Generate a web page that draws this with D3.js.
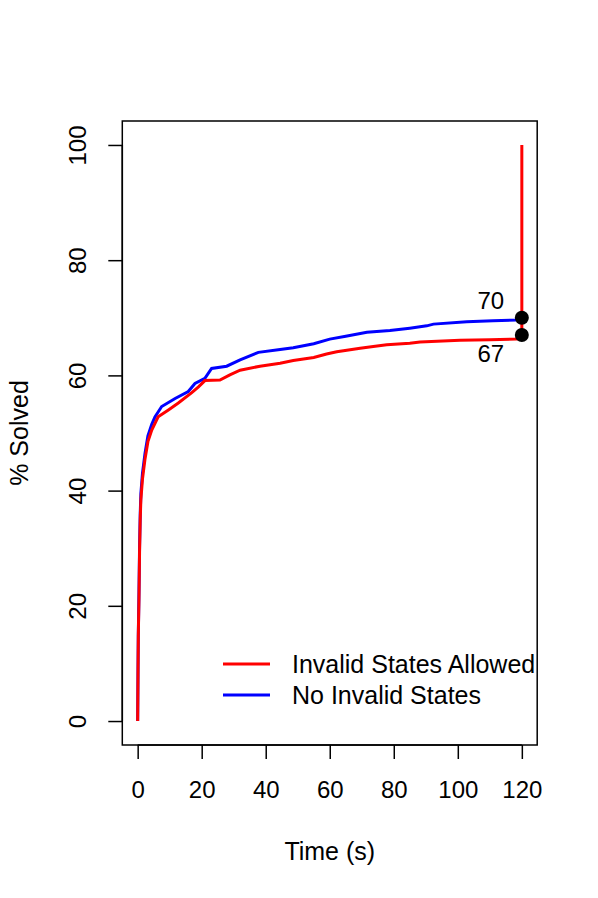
<!DOCTYPE html>
<html>
<head>
<meta charset="utf-8">
<script src="https://cdnjs.cloudflare.com/ajax/libs/d3/7.8.5/d3.min.js"></script>
<style>
  body { margin: 0; background: #fff; }
  text { font-family: "Liberation Sans", Arial, Helvetica, sans-serif; fill: #000; }
</style>
</head>
<body>
<script>
// cumulative % solved vs time
var xTicks = [0, 20, 40, 60, 80, 100, 120];
var yTicks = [0, 20, 40, 60, 80, 100];

var redTime = [0, 0.1, 0.2, 0.4, 0.6, 0.8, 1.0, 1.5, 2.3, 3.2, 4.4, 6.4, 9.6, 12.7, 16.9, 19, 21, 25.7, 28.8, 32, 38.2, 44.5, 48.6, 55, 59, 62.2, 69.5, 73.6, 77.8, 85, 88.2, 100.7, 110, 118.4, 120, 120];
var redPct  = [0, 8, 15, 21, 29.7, 35, 38.4, 42, 45.5, 48.5, 50.5, 52.8, 54, 55.2, 57, 58, 59.1, 59.2, 60.1, 60.9, 61.6, 62.1, 62.6, 63.1, 63.7, 64.1, 64.7, 65, 65.3, 65.6, 65.8, 66.1, 66.2, 66.3, 66.4, 100];

var blueTime = [0, 0.1, 0.2, 0.4, 0.6, 0.8, 1.0, 1.5, 2.3, 3.2, 4.4, 5.4, 7.5, 11.7, 15.8, 17.9, 21, 23.1, 27.8, 32, 37.7, 44.5, 48.6, 55, 60, 65, 71.6, 78.8, 85, 90.3, 92.4, 102.8, 111, 118.4, 120];
var bluePct  = [0, 8, 15, 22, 30.5, 36, 39.5, 43, 46.5, 49.5, 51.5, 52.8, 54.6, 56, 57.2, 58.6, 59.5, 61.2, 61.6, 62.7, 64, 64.5, 64.8, 65.5, 66.3, 66.8, 67.5, 67.8, 68.2, 68.6, 68.9, 69.3, 69.5, 69.6, 69.7];

var endTime = [120, 120];
var endPct = [70, 67];
var endLabels = ["70", "67"];

var legendNames = ["Invalid States Allowed", "No Invalid States"];
var legendColors = ["red", "blue"];

var W = 598, H = 898;
var svg = d3.select("body").append("svg").attr("width", W).attr("height", H);

var x = d3.scaleLinear().domain([-4.8, 124.8]).range([122.3, 537.2]);
var y = d3.scaleLinear().domain([-4.16, 104.16]).range([745, 121]);

// box
svg.append("rect")
   .attr("x", x(-4.8)).attr("y", y(104.16))
   .attr("width", x(124.8) - x(-4.8)).attr("height", y(-4.16) - y(104.16))
   .attr("fill", "none").attr("stroke", "#000").attr("stroke-width", 1.5);

// x axis
var xAxis = svg.append("g").attr("transform", "translate(0," + y(-4.16) + ")")
   .call(d3.axisBottom(x).tickValues(xTicks).tickSize(14).tickPadding(22).tickSizeOuter(0));
xAxis.select(".domain").attr("d", "M" + x(0) + ",0H" + x(120)).attr("stroke-width", 1.5);
xAxis.selectAll(".tick line").attr("stroke-width", 1.5);
xAxis.selectAll(".tick text").style("font-size", "24px").attr("font-family", null);

// y axis
var yAxis = svg.append("g").attr("transform", "translate(" + x(-4.8) + ",0)")
   .call(d3.axisLeft(y).tickValues(yTicks).tickSize(14).tickSizeOuter(0));
yAxis.select(".domain").attr("d", "M0," + y(0) + "V" + y(100)).attr("stroke-width", 1.5);
yAxis.selectAll(".tick line").attr("stroke-width", 1.5);
yAxis.selectAll(".tick text")
   .style("font-size", "24px").attr("font-family", null)
   .attr("x", null).attr("dy", null)
   .attr("text-anchor", "middle")
   .attr("transform", "translate(-36,0) rotate(-90)");

// axis titles
svg.append("text").attr("x", (x(-4.8) + x(124.8)) / 2).attr("y", 860)
   .attr("text-anchor", "middle").style("font-size", "25px").text("Time (s)");
svg.append("text").attr("transform", "translate(28," + (y(-4.16) + y(104.16)) / 2 + ") rotate(-90)")
   .attr("text-anchor", "middle").style("font-size", "25px").text("% Solved");

var line = d3.line().x(function(d) { return x(d[0]); }).y(function(d) { return y(d[1]); });

var blueData = blueTime.map(function(t, i) { return [t, bluePct[i]]; });
var redData = redTime.map(function(t, i) { return [t, redPct[i]]; });

svg.append("path").datum(blueData).attr("d", line)
   .attr("fill", "none").attr("stroke", "blue").attr("stroke-width", 3);
svg.append("path").datum(redData).attr("d", line)
   .attr("fill", "none").attr("stroke", "red").attr("stroke-width", 3);

// end points
svg.selectAll("circle.end").data(endPct).enter().append("circle")
   .attr("cx", function(d, i) { return x(endTime[i]); })
   .attr("cy", function(d) { return y(d); })
   .attr("r", 7).attr("fill", "#000");
svg.selectAll("text.end").data(endPct).enter().append("text")
   .attr("x", function(d, i) { return x(endTime[i]) - 31; })
   .attr("y", function(d, i) { return y(d) + (i === 0 ? -9 : 27); })
   .attr("text-anchor", "middle").style("font-size", "24px")
   .text(function(d, i) { return endLabels[i]; });

// legend
var leg = svg.selectAll("g.leg").data(legendNames).enter().append("g")
   .attr("transform", function(d, i) { return "translate(223," + (664 + i * 31) + ")"; });
leg.append("line").attr("x1", 0).attr("x2", 47).attr("y1", 0).attr("y2", 0)
   .attr("stroke", function(d, i) { return legendColors[i]; }).attr("stroke-width", 3);
leg.append("text").attr("x", 69).attr("y", 9).style("font-size", "25px")
   .text(function(d) { return d; });
</script>
</body>
</html>
